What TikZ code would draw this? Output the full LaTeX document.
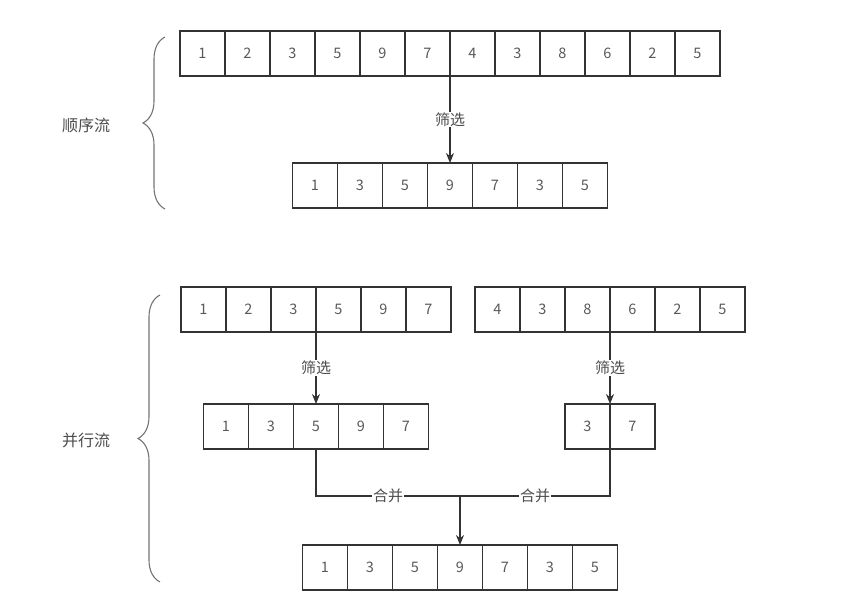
\documentclass[tikz,border=0pt]{standalone}
\usepackage{fontspec}
\setmainfont{Noto Sans CJK SC}
\usetikzlibrary{arrows.meta}
\usetikzlibrary{decorations.pathreplacing}

\tikzset{
  cell/.style={draw=black!80,line width=1.1pt,minimum width=45pt,minimum height=45pt,
    inner sep=0pt,outer sep=0pt,text=black!65,font=\fontsize{14.5}{16}\selectfont},
  flow/.style={draw=black!80,line width=1.1pt},
  tip/.style={-{Stealth[length=10pt,width=8pt]}},
  tag/.style={fill=white,inner sep=1pt,text=black!70,font=\fontsize{15}{16}\selectfont},
  side/.style={text=black!70,font=\fontsize{16}{18}\selectfont},
  bracket/.style={draw=black!55,line width=1.1pt,decorate,decoration={brace,amplitude=22pt}}
}

\begin{document}
\begin{tikzpicture}[x=1pt,y=-1pt]
  \useasboundingbox (0,0) rectangle (857,611);

  % sequential stream
  \node[side] (seqname) at (86,125) {顺序流};
  \draw[bracket] (165,209) -- (165,37);

  \node[cell] (s1) at (202.5,53.5) {1};
  \node[cell] (s2) at (247.5,53.5) {2};
  \node[cell] (s3) at (292.5,53.5) {3};
  \node[cell] (s4) at (337.5,53.5) {5};
  \node[cell] (s5) at (382.5,53.5) {9};
  \node[cell] (s6) at (427.5,53.5) {7};
  \node[cell] (s7) at (472.5,53.5) {4};
  \node[cell] (s8) at (517.5,53.5) {3};
  \node[cell] (s9) at (562.5,53.5) {8};
  \node[cell] (s10) at (607.5,53.5) {6};
  \node[cell] (s11) at (652.5,53.5) {2};
  \node[cell] (s12) at (697.5,53.5) {5};

  \node[cell] (sr1) at (315,185.5) {1};
  \node[cell] (sr2) at (360,185.5) {3};
  \node[cell] (sr3) at (405,185.5) {5};
  \node[cell] (sr4) at (450,185.5) {9};
  \node[cell] (sr5) at (495,185.5) {7};
  \node[cell] (sr6) at (540,185.5) {3};
  \node[cell] (sr7) at (585,185.5) {5};

  \draw[flow,tip] (s6.south east) -- node[tag] (pick0) {筛选} (sr4.north);

  % parallel stream
  \node[side] (parname) at (86,440) {并行流};
  \draw[bracket] (160,582) -- (160,295);

  \node[cell] (pa1) at (203.5,309.5) {1};
  \node[cell] (pa2) at (248.5,309.5) {2};
  \node[cell] (pa3) at (293.5,309.5) {3};
  \node[cell] (pa4) at (338.5,309.5) {5};
  \node[cell] (pa5) at (383.5,309.5) {9};
  \node[cell] (pa6) at (428.5,309.5) {7};

  \node[cell] (pb1) at (497.5,309.5) {4};
  \node[cell] (pb2) at (542.5,309.5) {3};
  \node[cell] (pb3) at (587.5,309.5) {8};
  \node[cell] (pb4) at (632.5,309.5) {6};
  \node[cell] (pb5) at (677.5,309.5) {2};
  \node[cell] (pb6) at (722.5,309.5) {5};

  \node[cell] (pr1) at (226,426.5) {1};
  \node[cell] (pr2) at (271,426.5) {3};
  \node[cell] (pr3) at (316,426.5) {5};
  \node[cell] (pr4) at (361,426.5) {9};
  \node[cell] (pr5) at (406,426.5) {7};

  \node[cell] (pq1) at (587.5,426.5) {3};
  \node[cell] (pq2) at (632.5,426.5) {7};

  \draw[flow,tip] (pa3.south east) -- node[tag] (pick1) {筛选} (pr3.north);
  \draw[flow,tip] (pb3.south east) -- node[tag] (pick2) {筛选} (pq1.north east);

  \node[cell] (pm1) at (325,567.5) {1};
  \node[cell] (pm2) at (370,567.5) {3};
  \node[cell] (pm3) at (415,567.5) {5};
  \node[cell] (pm4) at (460,567.5) {9};
  \node[cell] (pm5) at (505,567.5) {7};
  \node[cell] (pm6) at (550,567.5) {3};
  \node[cell] (pm7) at (595,567.5) {5};

  % merge
  \coordinate (join) at (pm4.north |- 0,496);
  \draw[flow] (pr3.south) |- node[tag,pos=0.75] (merge1) {合并} (join);
  \draw[flow] (pq1.south east) |- node[tag,pos=0.75] (merge2) {合并} (join);
  \draw[flow,tip] (join) -- (pm4.north);
\end{tikzpicture}
\end{document}
